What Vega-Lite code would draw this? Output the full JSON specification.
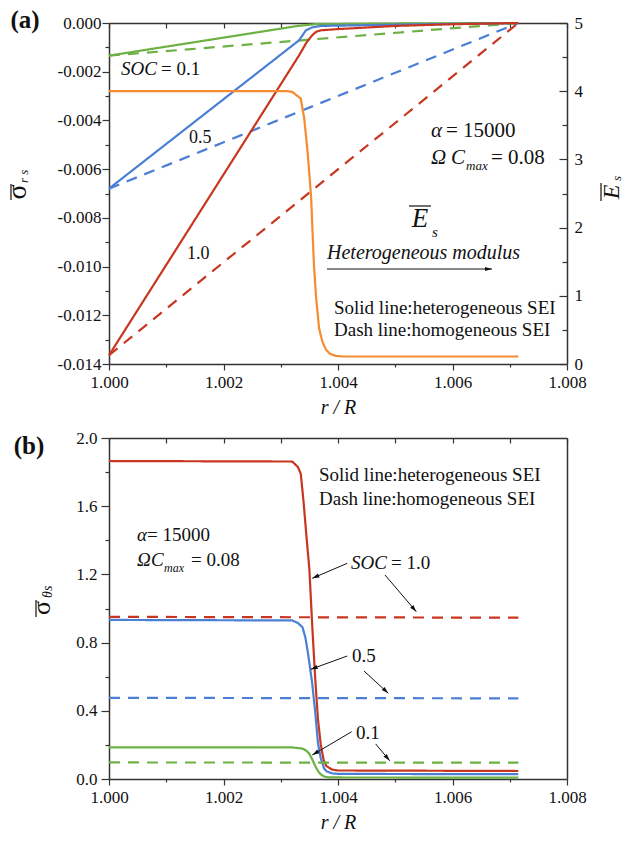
{
  "$schema": "https://vega.github.io/schema/vega-lite/v6.json",
  "background": "white",
  "padding": {"left": 3, "top": 7, "right": 0, "bottom": 0},
  "spacing": 12,
  "config": {
    "view": {"stroke": null},
    "font": "Liberation Serif",
    "axis": {"domainColor": "#333", "domainWidth": 1.5, "tickColor": "#333", "tickWidth": 1.2, "labelFont": "Liberation Serif", "labelFontSize": 17, "labelColor": "#111", "titleFont": "Liberation Serif", "titleColor": "#111", "titleFontWeight": "normal", "grid": false, "labelOverlap": false, "labelFlush": false},
    "text": {"font": "Liberation Serif", "color": "#111"}
  },
  "vconcat": [
    {
      "width": 458,
      "height": 341,
      "layer": [
        {
          "data": {"values": [
            {"s": "0.1", "t": "het", "x": 1.0, "y": -0.00134},
            {"s": "0.1", "t": "het", "x": 1.0033, "y": -0.00012},
            {"s": "0.1", "t": "het", "x": 1.0036, "y": -0.00005},
            {"s": "0.1", "t": "het", "x": 1.005, "y": -0.00002},
            {"s": "0.1", "t": "het", "x": 1.00715, "y": 0},
            {"s": "0.1", "t": "hom", "x": 1.0, "y": -0.00134},
            {"s": "0.1", "t": "hom", "x": 1.00715, "y": 0},
            {"s": "0.5", "t": "het", "x": 1.0, "y": -0.0068},
            {"s": "0.5", "t": "het", "x": 1.00332, "y": -0.00071},
            {"s": "0.5", "t": "het", "x": 1.00344, "y": -0.0003},
            {"s": "0.5", "t": "het", "x": 1.00355, "y": -0.00018},
            {"s": "0.5", "t": "het", "x": 1.0037, "y": -0.00012},
            {"s": "0.5", "t": "het", "x": 1.005, "y": -0.00007},
            {"s": "0.5", "t": "het", "x": 1.00715, "y": 0},
            {"s": "0.5", "t": "hom", "x": 1.0, "y": -0.0068},
            {"s": "0.5", "t": "hom", "x": 1.00715, "y": 0},
            {"s": "1.0", "t": "het", "x": 1.0, "y": -0.01364},
            {"s": "1.0", "t": "het", "x": 1.00332, "y": -0.00133},
            {"s": "1.0", "t": "het", "x": 1.00345, "y": -0.0008},
            {"s": "1.0", "t": "het", "x": 1.00355, "y": -0.0005},
            {"s": "1.0", "t": "het", "x": 1.00362, "y": -0.00036},
            {"s": "1.0", "t": "het", "x": 1.0037, "y": -0.0003},
            {"s": "1.0", "t": "het", "x": 1.004, "y": -0.00025},
            {"s": "1.0", "t": "het", "x": 1.005, "y": -0.00012},
            {"s": "1.0", "t": "het", "x": 1.006, "y": -0.00005},
            {"s": "1.0", "t": "het", "x": 1.00715, "y": 0},
            {"s": "1.0", "t": "hom", "x": 1.0, "y": -0.01364},
            {"s": "1.0", "t": "hom", "x": 1.00715, "y": 0}
          ]},
          "mark": {"type": "line", "strokeWidth": 2.2},
          "encoding": {
            "x": {"field": "x", "type": "quantitative", "scale": {"domain": [1.0, 1.008], "nice": false, "zero": false},
              "axis": {"orient": "bottom", "values": [1.0, 1.001, 1.002, 1.003, 1.004, 1.005, 1.006, 1.007, 1.008],
                "labelExpr": "round(datum.value*1000)%2===0 ? format(datum.value,'.3f') : ''",
                "tickSize": {"condition": {"test": "round(datum.value*1000)%2===0", "value": 6}, "value": 3},
                "labelPadding": 4, "title": "r / R", "titleFontSize": 20, "titleFontStyle": "italic", "titlePadding": 7}},
            "y": {"field": "y", "type": "quantitative", "scale": {"domain": [-0.014, 0], "nice": false, "zero": false},
              "axis": {"orient": "left", "values": [-0.014, -0.013, -0.012, -0.011, -0.01, -0.009, -0.008, -0.007, -0.006, -0.005, -0.004, -0.003, -0.002, -0.001, 0],
                "labelExpr": "abs(round(datum.value*1000))%2===0 ? (datum.value < -0.0000001 ? '-' : '') + format(abs(datum.value),'.3f') : ''",
                "tickSize": {"condition": {"test": "abs(round(datum.value*1000))%2===0", "value": 7}, "value": 4},
                "labelPadding": 1, "title": null}},
            "color": {"field": "s", "type": "nominal", "scale": {"domain": ["0.1", "0.5", "1.0"], "range": ["#6db144", "#4a7fd3", "#c9361f"]}, "legend": null},
            "strokeDash": {"field": "t", "type": "nominal", "scale": {"domain": ["het", "hom"], "range": [[1, 0], [11, 8]]}, "legend": null}
          }
        },
        {
          "data": {"values": [
            {"x": 1.0, "e": 4.0}, {"x": 1.0031, "e": 4.0}, {"x": 1.0032, "e": 3.99}, {"x": 1.00335, "e": 3.89},
            {"x": 1.00341, "e": 3.6}, {"x": 1.00347, "e": 3.1}, {"x": 1.00353, "e": 2.45}, {"x": 1.00358, "e": 1.45},
            {"x": 1.00362, "e": 0.95}, {"x": 1.00367, "e": 0.52}, {"x": 1.00373, "e": 0.32}, {"x": 1.00379, "e": 0.21},
            {"x": 1.00386, "e": 0.15}, {"x": 1.00396, "e": 0.12}, {"x": 1.0041, "e": 0.11}, {"x": 1.00715, "e": 0.11}
          ]},
          "mark": {"type": "line", "color": "#f58c32", "strokeWidth": 2.2},
          "encoding": {
            "x": {"field": "x", "type": "quantitative", "axis": null},
            "y": {"field": "e", "type": "quantitative", "scale": {"domain": [0, 5], "nice": false, "zero": false},
              "axis": {"orient": "right", "values": [0, 0.5, 1, 1.5, 2, 2.5, 3, 3.5, 4, 4.5, 5],
                "labelExpr": "datum.value%1===0 ? format(datum.value,'d') : ''",
                "tickSize": {"condition": {"test": "datum.value%1===0", "value": -8}, "value": -5},
                "labelPadding": 15, "title": null}}
          }
        },
        {
          "data": {"values": [{"x": 1.0, "y": 0}]},
          "mark": {"type": "point", "opacity": 0},
          "encoding": {
            "x": {"field": "x", "type": "quantitative",
              "axis": {"orient": "top", "values": [1.0, 1.001, 1.002, 1.003, 1.004, 1.005, 1.006, 1.007, 1.008], "labels": false, "tickSize": -5, "title": null}},
            "y": {"field": "y", "type": "quantitative", "scale": {"domain": [-0.014, 0], "nice": false, "zero": false}, "axis": null}
          }
        },
        {
          "data": {"values": [
            {"x": 1.00021, "y": -0.002147, "label": "SOC"}
          ]},
          "mark": {"type": "text", "fontSize": 19, "fontStyle": "italic", "align": "left", "baseline": "alphabetic"},
          "encoding": {"x": {"field": "x", "type": "quantitative", "axis": null}, "y": {"field": "y", "type": "quantitative", "scale": {"domain": [-0.014, 0], "nice": false, "zero": false}, "axis": null}, "text": {"field": "label"}}
        },
        {
          "data": {"values": [
            {"x": 1.000908, "y": -0.002147, "label": "= 0.1"},
            {"x": 1.00393, "y": -0.011947, "label": "Solid line:heterogeneous SEI"},
            {"x": 1.00393, "y": -0.012851, "label": "Dash line:homogeneous SEI"}
          ]},
          "mark": {"type": "text", "fontSize": 19, "align": "left", "baseline": "alphabetic"},
          "encoding": {"x": {"field": "x", "type": "quantitative", "axis": null}, "y": {"field": "y", "type": "quantitative", "scale": {"domain": [-0.014, 0], "nice": false, "zero": false}, "axis": null}, "text": {"field": "label"}}
        },
        {
          "data": {"values": [
            {"x": 1.001397, "y": -0.004927, "label": "0.5"},
            {"x": 1.001362, "y": -0.009689, "label": "1.0"}
          ]},
          "mark": {"type": "text", "fontSize": 18, "align": "left", "baseline": "alphabetic"},
          "encoding": {"x": {"field": "x", "type": "quantitative", "axis": null}, "y": {"field": "y", "type": "quantitative", "scale": {"domain": [-0.014, 0], "nice": false, "zero": false}, "axis": null}, "text": {"field": "label"}}
        },
        {
          "data": {"values": [
            {"x": 1.005624, "y": -0.00468, "label": "α"},
            {"x": 1.005624, "y": -0.005789, "label": "Ω"},
            {"x": 1.005974, "y": -0.005789, "label": "C"}
          ]},
          "mark": {"type": "text", "fontSize": 21, "fontStyle": "italic", "align": "left", "baseline": "alphabetic"},
          "encoding": {"x": {"field": "x", "type": "quantitative", "axis": null}, "y": {"field": "y", "type": "quantitative", "scale": {"domain": [-0.014, 0], "nice": false, "zero": false}, "axis": null}, "text": {"field": "label"}}
        },
        {
          "data": {"values": [
            {"x": 1.005886, "y": -0.00468, "label": "= 15000"},
            {"x": 1.006672, "y": -0.005789, "label": "= 0.08"}
          ]},
          "mark": {"type": "text", "fontSize": 21, "align": "left", "baseline": "alphabetic"},
          "encoding": {"x": {"field": "x", "type": "quantitative", "axis": null}, "y": {"field": "y", "type": "quantitative", "scale": {"domain": [-0.014, 0], "nice": false, "zero": false}, "axis": null}, "text": {"field": "label"}}
        },
        {
          "data": {"values": [
            {"x": 1.006236, "y": -0.006035, "label": "max"}
          ]},
          "mark": {"type": "text", "fontSize": 13, "fontStyle": "italic", "align": "left", "baseline": "alphabetic"},
          "encoding": {"x": {"field": "x", "type": "quantitative", "axis": null}, "y": {"field": "y", "type": "quantitative", "scale": {"domain": [-0.014, 0], "nice": false, "zero": false}, "axis": null}, "text": {"field": "label"}}
        },
        {
          "data": {"values": [
            {"x": 1.005432, "y": -0.008375, "label": "E"}
          ]},
          "mark": {"type": "text", "fontSize": 27, "fontStyle": "italic", "align": "center", "baseline": "alphabetic"},
          "encoding": {"x": {"field": "x", "type": "quantitative", "axis": null}, "y": {"field": "y", "type": "quantitative", "scale": {"domain": [-0.014, 0], "nice": false, "zero": false}, "axis": null}, "text": {"field": "label"}}
        },
        {
          "data": {"values": [
            {"x": 1.005642, "y": -0.008786, "label": "s"}
          ]},
          "mark": {"type": "text", "fontSize": 15, "fontStyle": "italic", "align": "left", "baseline": "alphabetic"},
          "encoding": {"x": {"field": "x", "type": "quantitative", "axis": null}, "y": {"field": "y", "type": "quantitative", "scale": {"domain": [-0.014, 0], "nice": false, "zero": false}, "axis": null}, "text": {"field": "label"}}
        },
        {
          "data": {"values": [
            {"x": 1.003808, "y": -0.009689, "label": "Heterogeneous modulus"}
          ]},
          "mark": {"type": "text", "fontSize": 20, "fontStyle": "italic", "align": "left", "baseline": "alphabetic"},
          "encoding": {"x": {"field": "x", "type": "quantitative", "axis": null}, "y": {"field": "y", "type": "quantitative", "scale": {"domain": [-0.014, 0], "nice": false, "zero": false}, "axis": null}, "text": {"field": "label"}}
        },
        {
          "data": {"values": [
            {"x": 0.998533, "y": -0.000205, "label": "(a)"}
          ]},
          "mark": {"type": "text", "fontSize": 25, "fontWeight": "bold", "align": "center", "baseline": "alphabetic"},
          "encoding": {"x": {"field": "x", "type": "quantitative", "axis": null}, "y": {"field": "y", "type": "quantitative", "scale": {"domain": [-0.014, 0], "nice": false, "zero": false}, "axis": null}, "text": {"field": "label"}}
        },
        {
          "data": {"values": [
            {"x": 0.99855, "y": -0.006939, "label": "σ"}
          ]},
          "mark": {"type": "text", "fontSize": 28, "angle": 270, "align": "center", "baseline": "alphabetic"},
          "encoding": {"x": {"field": "x", "type": "quantitative", "axis": null}, "y": {"field": "y", "type": "quantitative", "scale": {"domain": [-0.014, 0], "nice": false, "zero": false}, "axis": null}, "text": {"field": "label"}}
        },
        {
          "data": {"values": [
            {"x": 1.008908, "y": -0.006939, "label": "E"}
          ]},
          "mark": {"type": "text", "fontSize": 24, "fontStyle": "italic", "angle": 270, "align": "center", "baseline": "alphabetic"},
          "encoding": {"x": {"field": "x", "type": "quantitative", "axis": null}, "y": {"field": "y", "type": "quantitative", "scale": {"domain": [-0.014, 0], "nice": false, "zero": false}, "axis": null}, "text": {"field": "label"}}
        },
        {
          "data": {"values": [
            {"x": 0.998585, "y": -0.006569, "label": "r s"},
            {"x": 1.008943, "y": -0.006487, "label": "s"}
          ]},
          "mark": {"type": "text", "fontSize": 13, "fontStyle": "italic", "angle": 270, "align": "left", "baseline": "alphabetic"},
          "encoding": {"x": {"field": "x", "type": "quantitative", "axis": null}, "y": {"field": "y", "type": "quantitative", "scale": {"domain": [-0.014, 0], "nice": false, "zero": false}, "axis": null}, "text": {"field": "label"}}
        },
        {
          "data": {"values": [
            {"x": 0.998288, "x2": 0.998288, "y": -0.00661, "y2": -0.007267},
            {"x": 1.008594, "x2": 1.008594, "y": -0.006569, "y2": -0.007308},
            {"x": 1.00524, "x2": 1.005624, "y": -0.007513, "y2": -0.007513},
            {"x": 1.003808, "x2": 1.00669, "y": -0.0101, "y2": -0.0101}
          ]},
          "mark": {"type": "rule", "color": "#111", "strokeWidth": 1.2},
          "encoding": {"x": {"field": "x", "type": "quantitative", "axis": null}, "y": {"field": "y", "type": "quantitative", "scale": {"domain": [-0.014, 0], "nice": false, "zero": false}, "axis": null}, "x2": {"field": "x2"}, "y2": {"field": "y2"}}
        },
        {
          "data": {"values": [
            {"x": 1.00669, "y": -0.0101}
          ]},
          "mark": {"type": "point", "shape": "M0,0L-0.6,2L0.6,2Z", "filled": true, "color": "#111", "size": 49, "opacity": 1, "angle": 90},
          "encoding": {"x": {"field": "x", "type": "quantitative", "axis": null}, "y": {"field": "y", "type": "quantitative", "scale": {"domain": [-0.014, 0], "nice": false, "zero": false}, "axis": null}}
        }
      ],
      "resolve": {"scale": {"y": "independent"}, "axis": {"x": "independent", "y": "independent"}}
    },
    {
      "width": 458,
      "height": 341,
      "layer": [
        {
          "data": {"values": [
            {"s": "1.0", "t": "het", "x": 1.0, "y": 1.865}, {"s": "1.0", "t": "het", "x": 1.0032, "y": 1.862},
            {"s": "1.0", "t": "het", "x": 1.0033, "y": 1.83}, {"s": "1.0", "t": "het", "x": 1.00335, "y": 1.79},
            {"s": "1.0", "t": "het", "x": 1.0034, "y": 1.62}, {"s": "1.0", "t": "het", "x": 1.00345, "y": 1.42},
            {"s": "1.0", "t": "het", "x": 1.0035, "y": 1.23}, {"s": "1.0", "t": "het", "x": 1.00355, "y": 0.9},
            {"s": "1.0", "t": "het", "x": 1.0036, "y": 0.6}, {"s": "1.0", "t": "het", "x": 1.00365, "y": 0.35},
            {"s": "1.0", "t": "het", "x": 1.0037, "y": 0.2}, {"s": "1.0", "t": "het", "x": 1.00375, "y": 0.11},
            {"s": "1.0", "t": "het", "x": 1.0038, "y": 0.075}, {"s": "1.0", "t": "het", "x": 1.0039, "y": 0.055},
            {"s": "1.0", "t": "het", "x": 1.004, "y": 0.05}, {"s": "1.0", "t": "het", "x": 1.00715, "y": 0.047},
            {"s": "1.0", "t": "hom", "x": 1.0, "y": 0.951}, {"s": "1.0", "t": "hom", "x": 1.00715, "y": 0.946},
            {"s": "0.5", "t": "het", "x": 1.0, "y": 0.933}, {"s": "0.5", "t": "het", "x": 1.0032, "y": 0.93},
            {"s": "0.5", "t": "het", "x": 1.0033, "y": 0.915}, {"s": "0.5", "t": "het", "x": 1.00338, "y": 0.89},
            {"s": "0.5", "t": "het", "x": 1.00343, "y": 0.83}, {"s": "0.5", "t": "het", "x": 1.00347, "y": 0.75},
            {"s": "0.5", "t": "het", "x": 1.0035, "y": 0.68}, {"s": "0.5", "t": "het", "x": 1.00355, "y": 0.56},
            {"s": "0.5", "t": "het", "x": 1.0036, "y": 0.4}, {"s": "0.5", "t": "het", "x": 1.00365, "y": 0.21},
            {"s": "0.5", "t": "het", "x": 1.0037, "y": 0.12}, {"s": "0.5", "t": "het", "x": 1.00376, "y": 0.06},
            {"s": "0.5", "t": "het", "x": 1.0038, "y": 0.045}, {"s": "0.5", "t": "het", "x": 1.0039, "y": 0.033},
            {"s": "0.5", "t": "het", "x": 1.004, "y": 0.03}, {"s": "0.5", "t": "het", "x": 1.00715, "y": 0.028},
            {"s": "0.5", "t": "hom", "x": 1.0, "y": 0.476}, {"s": "0.5", "t": "hom", "x": 1.00715, "y": 0.473},
            {"s": "0.1", "t": "het", "x": 1.0, "y": 0.186}, {"s": "0.1", "t": "het", "x": 1.0032, "y": 0.185},
            {"s": "0.1", "t": "het", "x": 1.00335, "y": 0.18}, {"s": "0.1", "t": "het", "x": 1.0034, "y": 0.175},
            {"s": "0.1", "t": "het", "x": 1.00345, "y": 0.165}, {"s": "0.1", "t": "het", "x": 1.0035, "y": 0.148},
            {"s": "0.1", "t": "het", "x": 1.00355, "y": 0.115}, {"s": "0.1", "t": "het", "x": 1.0036, "y": 0.078},
            {"s": "0.1", "t": "het", "x": 1.00365, "y": 0.047}, {"s": "0.1", "t": "het", "x": 1.0037, "y": 0.027},
            {"s": "0.1", "t": "het", "x": 1.00375, "y": 0.016}, {"s": "0.1", "t": "het", "x": 1.0038, "y": 0.011},
            {"s": "0.1", "t": "het", "x": 1.0039, "y": 0.009}, {"s": "0.1", "t": "het", "x": 1.00715, "y": 0.008},
            {"s": "0.1", "t": "hom", "x": 1.0, "y": 0.097}, {"s": "0.1", "t": "hom", "x": 1.00715, "y": 0.096}
          ]},
          "mark": {"type": "line", "strokeWidth": 2.2},
          "encoding": {
            "x": {"field": "x", "type": "quantitative", "scale": {"domain": [1.0, 1.008], "nice": false, "zero": false},
              "axis": {"orient": "bottom", "values": [1.0, 1.001, 1.002, 1.003, 1.004, 1.005, 1.006, 1.007, 1.008],
                "labelExpr": "round(datum.value*1000)%2===0 ? format(datum.value,'.3f') : ''",
                "tickSize": {"condition": {"test": "round(datum.value*1000)%2===0", "value": 6}, "value": 3},
                "labelPadding": 4, "title": "r / R", "titleFontSize": 20, "titleFontStyle": "italic", "titlePadding": 7}},
            "y": {"field": "y", "type": "quantitative", "scale": {"domain": [0, 2], "nice": false, "zero": false},
              "axis": {"orient": "left", "values": [0, 0.2, 0.4, 0.6, 0.8, 1, 1.2, 1.4, 1.6, 1.8, 2],
                "labelExpr": "round(datum.value*10)%4===0 ? format(datum.value,'.1f') : ''",
                "tickSize": {"condition": {"test": "round(datum.value*10)%4===0", "value": 8}, "value": 4},
                "labelPadding": 4, "title": null}},
            "color": {"field": "s", "type": "nominal", "scale": {"domain": ["0.1", "0.5", "1.0"], "range": ["#6db144", "#4a7fd3", "#c9361f"]}, "legend": null},
            "strokeDash": {"field": "t", "type": "nominal", "scale": {"domain": ["het", "hom"], "range": [[1, 0], [11, 8]]}, "legend": null}
          }
        },
        {
          "data": {"values": [
            {"x": 1.003668, "y": 1.7478, "label": "Solid line:heterogeneous SEI"},
            {"x": 1.003668, "y": 1.607, "label": "Dash line:homogeneous SEI"},
            {"x": 1.004926, "y": 1.2317, "label": "= 1.0"},
            {"x": 1.004245, "y": 0.6862, "label": "0.5"},
            {"x": 1.004314, "y": 0.2346, "label": "0.1"},
            {"x": 1.000664, "y": 1.3959, "label": "= 15000"},
            {"x": 1.001432, "y": 1.2493, "label": "= 0.08"}
          ]},
          "mark": {"type": "text", "fontSize": 19, "align": "left", "baseline": "alphabetic"},
          "encoding": {"x": {"field": "x", "type": "quantitative", "axis": null}, "y": {"field": "y", "type": "quantitative", "axis": null}, "text": {"field": "label"}}
        },
        {
          "data": {"values": [
            {"x": 1.004227, "y": 1.2317, "label": "SOC"},
            {"x": 1.000489, "y": 1.3959, "label": "α"},
            {"x": 1.000489, "y": 1.2493, "label": "Ω"},
            {"x": 1.000734, "y": 1.2493, "label": "C"}
          ]},
          "mark": {"type": "text", "fontSize": 19, "fontStyle": "italic", "align": "left", "baseline": "alphabetic"},
          "encoding": {"x": {"field": "x", "type": "quantitative", "axis": null}, "y": {"field": "y", "type": "quantitative", "axis": null}, "text": {"field": "label"}}
        },
        {
          "data": {"values": [
            {"x": 1.000961, "y": 1.2141, "label": "max"}
          ]},
          "mark": {"type": "text", "fontSize": 12, "fontStyle": "italic", "align": "left", "baseline": "alphabetic"},
          "encoding": {"x": {"field": "x", "type": "quantitative", "axis": null}, "y": {"field": "y", "type": "quantitative", "axis": null}, "text": {"field": "label"}}
        },
        {
          "data": {"values": [
            {"x": 0.998603, "y": 1.9062, "label": "(b)"}
          ]},
          "mark": {"type": "text", "fontSize": 25, "fontWeight": "bold", "align": "center", "baseline": "alphabetic"},
          "encoding": {"x": {"field": "x", "type": "quantitative", "axis": null}, "y": {"field": "y", "type": "quantitative", "axis": null}, "text": {"field": "label"}}
        },
        {
          "data": {"values": [
            {"x": 0.998969, "y": 1.0029, "label": "σ"}
          ]},
          "mark": {"type": "text", "fontSize": 26, "angle": 270, "align": "center", "baseline": "alphabetic"},
          "encoding": {"x": {"field": "x", "type": "quantitative", "axis": null}, "y": {"field": "y", "type": "quantitative", "axis": null}, "text": {"field": "label"}}
        },
        {
          "data": {"values": [
            {"x": 0.999004, "y": 1.0616, "label": "θs"}
          ]},
          "mark": {"type": "text", "fontSize": 14, "fontStyle": "italic", "angle": 270, "align": "left", "baseline": "alphabetic"},
          "encoding": {"x": {"field": "x", "type": "quantitative", "axis": null}, "y": {"field": "y", "type": "quantitative", "axis": null}, "text": {"field": "label"}}
        },
        {
          "data": {"values": [
            {"x": 0.998725, "x2": 0.998725, "y": 1.0499, "y2": 0.9501}
          ]},
          "mark": {"type": "rule", "color": "#111", "strokeWidth": 1.2},
          "encoding": {"x": {"field": "x", "type": "quantitative", "axis": null}, "y": {"field": "y", "type": "quantitative", "axis": null}, "x2": {"field": "x2"}, "y2": {"field": "y2"}}
        },
        {
          "data": {"values": [
            {"x": 1.004162, "y": 1.2651, "x2": 1.003551, "y2": 1.1771},
            {"x": 1.004821, "y": 1.1965, "x2": 1.005368, "y2": 0.9812},
            {"x": 1.004162, "y": 0.7214, "x2": 1.003523, "y2": 0.6434},
            {"x": 1.004454, "y": 0.6334, "x2": 1.004879, "y2": 0.5026},
            {"x": 1.004239, "y": 0.2774, "x2": 1.003551, "y2": 0.1408},
            {"x": 1.004659, "y": 0.2053, "x2": 1.004903, "y2": 0.1073}
          ]},
          "transform": [{"calculate": "atan2((datum.x2-datum.x)*57250,(datum.y2-datum.y)*170.5)*180/PI", "as": "ang"}],
          "layer": [
            {
              "mark": {"type": "rule", "color": "#111", "strokeWidth": 1},
              "encoding": {"x": {"field": "x", "type": "quantitative", "axis": null}, "y": {"field": "y", "type": "quantitative", "axis": null}, "x2": {"field": "x2"}, "y2": {"field": "y2"}}
            },
            {
              "mark": {"type": "point", "shape": "M0,0L-0.6,2L0.6,2Z", "filled": true, "color": "#111", "size": 49, "opacity": 1},
              "encoding": {"x": {"field": "x2", "type": "quantitative", "axis": null}, "y": {"field": "y2", "type": "quantitative", "axis": null}, "angle": {"field": "ang", "type": "quantitative", "scale": null}}
            }
          ]
        },
        {
          "data": {"values": [{"x": 1.0, "y": 0}]},
          "mark": {"type": "point", "opacity": 0},
          "encoding": {
            "x": {"field": "x", "type": "quantitative",
              "axis": {"orient": "top", "values": [1.0, 1.001, 1.002, 1.003, 1.004, 1.005, 1.006, 1.007, 1.008], "labels": false, "tickSize": -5, "title": null}},
            "y": {"field": "y", "type": "quantitative",
              "axis": {"orient": "right", "ticks": false, "labels": false, "title": null}}
          }
        }
      ],
      "resolve": {"axis": {"x": "independent", "y": "independent"}}
    }
  ]
}
